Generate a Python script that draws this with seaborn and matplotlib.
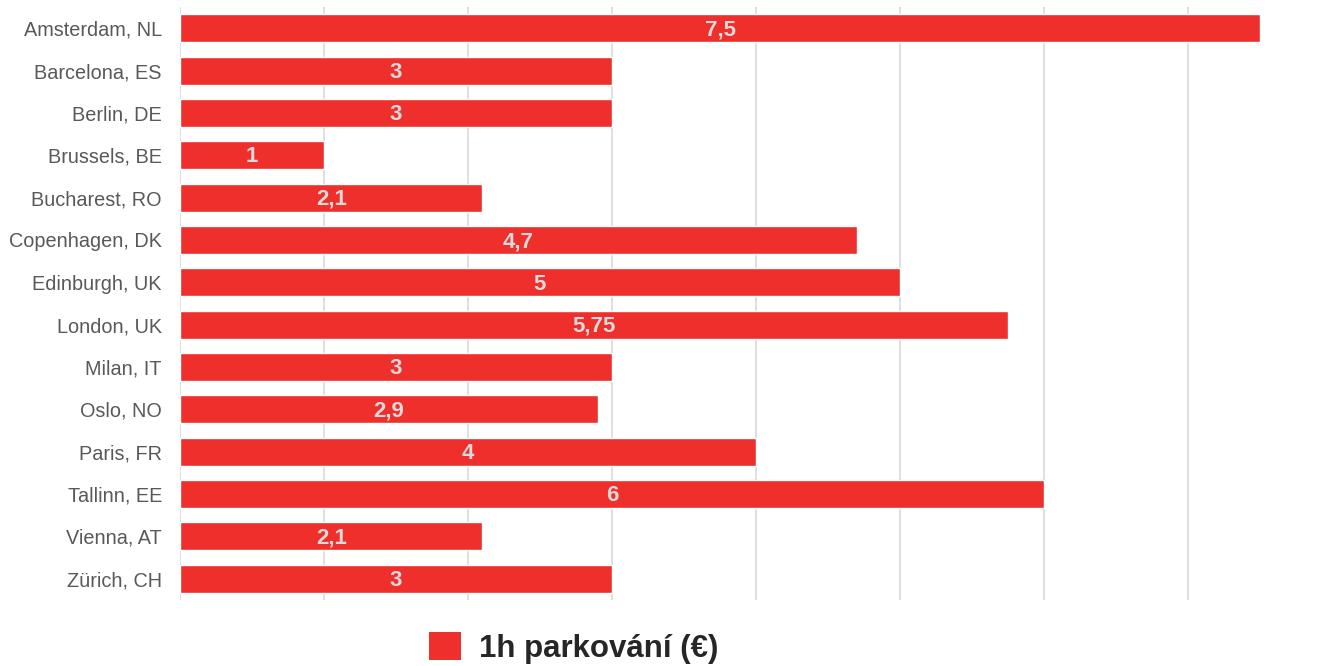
import matplotlib
matplotlib.use("Agg")
import matplotlib.pyplot as plt
import seaborn as sns
import pandas as pd
from matplotlib.patches import Patch

cities = ["Amsterdam, NL", "Barcelona, ES", "Berlin, DE", "Brussels, BE", "Bucharest, RO",
          "Copenhagen, DK", "Edinburgh, UK", "London, UK", "Milan, IT", "Oslo, NO",
          "Paris, FR", "Tallinn, EE", "Vienna, AT", "Zürich, CH"]
values = [7.5, 3, 3, 1, 2.1, 4.7, 5, 5.75, 3, 2.9, 4, 6, 2.1, 3]
value_labels = ["7,5", "3", "3", "1", "2,1", "4,7", "5", "5,75", "3", "2,9", "4", "6", "2,1", "3"]
series_name = "1h parkování (€)"

df = pd.DataFrame({"city": cities, "value": values})

sns.set_style("white")
plt.rcParams['font.family'] = ['Liberation Sans', 'DejaVu Sans']

W, H = 1324, 666
fig = plt.figure(figsize=(W / 100, H / 100), dpi=100)
ax = fig.add_axes([180 / W, 1 - 600 / H, (1260 - 180) / W, (600 - 7) / H])

bar_color = "#EE2F2C"
sns.barplot(data=df, y="city", x="value", orient="h", color=bar_color,
            width=0.66, saturation=1, ax=ax, zorder=3)

ax.set_xlim(0, 7.5)
ax.set_xticks(range(0, 8))
ax.xaxis.grid(True, color="#d9d9d9", linewidth=1.2, zorder=0)
ax.set_axisbelow(True)
ax.tick_params(axis="x", labelbottom=False, length=0)
ax.tick_params(axis="y", length=0, pad=13, labelsize=14.3, labelcolor="#595959")
for s in ax.spines.values():
    s.set_visible(False)
ax.set_xlabel("")
ax.set_ylabel("")

for i, (v, lab) in enumerate(zip(values, value_labels)):
    ax.text(v / 2, i + 0.04, lab, ha="center", va="center", color="#d9d9d9",
            fontsize=16, fontweight="heavy", zorder=4)

handle = Patch(facecolor=bar_color, edgecolor="none")
fig.legend([handle], [series_name], loc="center", bbox_to_anchor=(574 / W, 1 - 648 / H),
           frameon=False, prop={"weight": "bold", "size": 22.5},
           labelcolor="#262626", handlelength=1.0, handleheight=1.0, handletextpad=0.6)

fig.savefig("out.png", dpi=100)
